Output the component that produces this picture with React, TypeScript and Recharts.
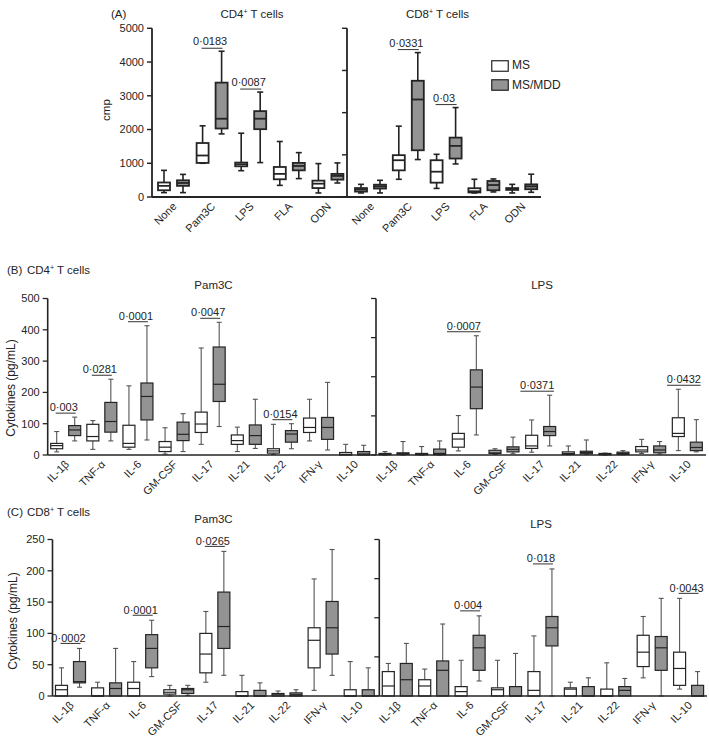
import React from 'react';
import { BarChart, Bar, XAxis, YAxis, Legend } from 'recharts';

const FONT = '"Liberation Sans", Arial, Helvetica, sans-serif';
const INK = '#242424';
const GRAY = '#939393';

// ---------- Panel A: proliferation (cmp) ----------
const stimuli = ['None', 'Pam3C', 'LPS', 'FLA', 'ODN'];
// [min, q1, median, q3, max]
const cd4MS = [
  [130, 200, 330, 430, 790],
  [1000, 1010, 1230, 1600, 2110],
  [780, 910, 970, 1020, 1890],
  [345, 525, 685, 890, 1645],
  [120, 265, 395, 485, 990],
];
const cd4MDD = [
  [130, 330, 415, 495, 670],
  [1870, 2030, 2320, 3390, 4320],
  [1020, 2010, 2320, 2545, 3110],
  [545, 790, 920, 1010, 1315],
  [415, 515, 625, 685, 1010],
];
const cd4P = ['', '0·0183', '0·0087', '', ''];

const cd8MS = [
  [120, 160, 215, 265, 375],
  [525, 790, 1090, 1240, 2100],
  [255, 425, 750, 1090, 1265],
  [120, 135, 170, 260, 525],
  [120, 210, 240, 265, 375],
];
const cd8MDD = [
  [120, 250, 315, 365, 495],
  [1110, 1385, 2890, 3445, 4280],
  [980, 1140, 1515, 1760, 2650],
  [150, 200, 355, 475, 535],
  [140, 230, 315, 375, 675],
];
const cd8P = ['', '0·0331', '0·03', '', ''];

const cmpTicks = [0, 1000, 2000, 3000, 4000, 5000];
const cmpTicksRight = [0, 1250, 2500, 3750, 5000];

// ---------- Panels B, C: cytokines ----------
const cytokines = ['IL-1β', 'TNF-α', 'IL-6', 'GM-CSF', 'IL-17', 'IL-21', 'IL-22', 'IFN-γ', 'IL-10'];

const cd4Pam3cMS = [
  [10, 20, 30, 37, 75],
  [18, 45, 59, 98, 110],
  [18, 25, 37, 95, 221],
  [3, 11, 25, 43, 87],
  [34, 72, 99, 137, 342],
  [11, 34, 46, 64, 89],
  [2, 6, 13, 20, 98],
  [45, 72, 88, 118, 178],
  [0, 0, 2, 8, 34],
];
const cd4Pam3cMDD = [
  [45, 62, 80, 94, 121],
  [45, 73, 107, 168, 242],
  [48, 112, 187, 230, 413],
  [11, 46, 66, 105, 132],
  [91, 171, 226, 345, 424],
  [21, 34, 62, 96, 178],
  [20, 41, 67, 78, 100],
  [16, 50, 88, 120, 232],
  [0, 0, 3, 11, 31],
];
const cd4Pam3cP = ['0·003', '0·0281', '0·0001', '', '0·0047', '', '0·0154', '', ''];

const cd4LpsMS = [
  [0, 1, 3, 5, 11],
  [0, 1, 3, 5, 27],
  [13, 25, 51, 69, 126],
  [2, 5, 9, 15, 20],
  [9, 21, 29, 63, 112],
  [1, 2, 5, 10, 29],
  [0, 1, 3, 5, 6],
  [5, 10, 16, 27, 50],
  [14, 59, 69, 119, 210],
];
const cd4LpsMDD = [
  [0, 2, 4, 7, 43],
  [0, 1, 5, 19, 45],
  [64, 148, 217, 272, 381],
  [4, 10, 18, 26, 57],
  [29, 62, 75, 91, 191],
  [2, 4, 8, 12, 48],
  [1, 2, 5, 9, 14],
  [3, 7, 16, 29, 43],
  [10, 14, 24, 41, 113],
];
const cd4LpsP = ['', '', '0·0007', '', '0·0371', '', '', '', '0·0432'];

const cd8Pam3cMS = [
  [0, 0, 10, 17, 45],
  [0, 0, 0, 13, 22],
  [0, 0, 12, 22, 55],
  [0, 3, 6, 10, 17],
  [22, 37, 67, 100, 135],
  [0, 0, 0, 7, 33],
  [0, 0, 2, 4, 8],
  [9, 45, 89, 109, 187],
  [0, 0, 0, 10, 55],
];
const cd8Pam3cMDD = [
  [14, 21, 23, 55, 76],
  [0, 0, 12, 21, 76],
  [31, 45, 76, 98, 121],
  [1, 4, 10, 12, 17],
  [33, 76, 111, 166, 231],
  [0, 0, 0, 9, 21],
  [0, 0, 2, 5, 10],
  [33, 67, 109, 151, 234],
  [0, 0, 0, 10, 45],
];
const cd8Pam3cP = ['0·0002', '', '0·0001', '', '0·0265', '', '', '', ''];

const cd8LpsMS = [
  [0, 0, 16, 39, 52],
  [0, 0, 16, 26, 43],
  [0, 0, 7, 15, 57],
  [0, 0, 10, 13, 57],
  [0, 0, 9, 39, 96],
  [0, 0, 11, 13, 22],
  [0, 0, 0, 11, 53],
  [29, 47, 70, 97, 127],
  [11, 17, 44, 70, 156],
];
const cd8LpsMDD = [
  [0, 0, 26, 52, 84],
  [0, 0, 41, 56, 115],
  [24, 41, 77, 97, 128],
  [0, 0, 0, 15, 68],
  [0, 80, 109, 127, 203],
  [0, 0, 0, 15, 29],
  [0, 0, 9, 15, 28],
  [0, 41, 77, 95, 156],
  [0, 0, 0, 17, 39],
];
const cd8LpsP = ['', '', '0·004', '', '0·018', '', '', '', '0·0043'];

const cd4CytTicks = [0, 100, 200, 300, 400, 500];
const cd4CytTicksRight = [0, 125, 250, 375, 500];
const cd8CytTicks = [0, 50, 100, 150, 200, 250];
const cd8CytTicksRight = [0, 62.5, 125, 187.5, 250];

// ---------- helpers ----------
function buildRows(cats: string[], ms: number[][], mdd: number[][], p: string[]) {
  return cats.map((c, i) => ({ cat: c, ms: ms[i], mdd: mdd[i], p: p[i] }));
}

type St = {
  boxStroke: number;
  whisker: number;
  whiskerColor: string;
  cap: number;
  gap: number;
  sigGap: number;
  textLift: number;
  sigMode: 'pair' | 'text';
  textShift: number;
  maxRight: number;
};

function makeShape(series: 'ms' | 'mdd', st: St) {
  return (props: any) => {
    const { x, y, width, height, payload } = props;
    if (!payload || !isFinite(y) || !isFinite(height)) return <g />;
    const v: number[] = payload[series];
    const [mn, q1, md, q3, mx] = v;
    const k = height / (mx - mn);
    const py = (val: number) => y + (mx - val) * k;
    const cx = x + width / 2;
    const hc = st.cap / 2;
    const fill = series === 'ms' ? '#ffffff' : GRAY;
    const els: any[] = [];
    if (mx > q3) {
      els.push(<line key="wu" x1={cx} x2={cx} y1={py(mx)} y2={py(q3)} stroke={st.whiskerColor} strokeWidth={st.whisker} />);
      els.push(<line key="cu" x1={cx - hc} x2={cx + hc} y1={py(mx)} y2={py(mx)} stroke={st.whiskerColor} strokeWidth={st.whisker} />);
    }
    if (q1 > mn) {
      els.push(<line key="wl" x1={cx} x2={cx} y1={py(q1)} y2={py(mn)} stroke={st.whiskerColor} strokeWidth={st.whisker} />);
      els.push(<line key="cl" x1={cx - hc} x2={cx + hc} y1={py(mn)} y2={py(mn)} stroke={st.whiskerColor} strokeWidth={st.whisker} />);
    }
    els.push(
      <rect key="box" x={x} y={py(q3)} width={width} height={Math.max(py(q1) - py(q3), 0.01)} fill={fill} stroke={INK} strokeWidth={st.boxStroke} />
    );
    els.push(<line key="med" x1={x} x2={x + width} y1={py(md)} y2={py(md)} stroke={INK} strokeWidth={st.boxStroke} />);

    if (series === 'mdd' && payload.p) {
      const msCx = cx - (width + st.gap);
      const top = Math.min(py(payload.ms[4]), py(mx));
      const lineY = top - st.sigGap;
      const pairC = (msCx + cx) / 2;
      const label: string = payload.p;
      const tw = (label.length - 1) * 6.1 + 3.1;
      let tc = pairC - st.textShift;
      if (tc + tw / 2 > st.maxRight) tc = st.maxRight - tw / 2;
      let lx1 = msCx - 1;
      let lx2 = cx + 1;
      if (st.sigMode === 'text') {
        lx1 = tc - tw / 2;
        lx2 = tc + tw / 2;
      }
      els.push(<line key="sl" x1={lx1} x2={lx2} y1={lineY} y2={lineY} stroke="#333" strokeWidth={1} />);
      els.push(
        <text key="st" x={tc} y={lineY - st.textLift} textAnchor="middle" fontSize={11} fontFamily={FONT} fill={INK}>
          {label}
        </text>
      );
    }
    return <g>{els}</g>;
  };
}

const rotTick = (props: any) => {
  const { x, y, payload } = props;
  const ax = x + 4;
  const ay = y + 10;
  return (
    <text x={ax} y={ay} transform={`rotate(-45 ${ax} ${ay})`} textAnchor="end" fontSize={11} fontFamily={FONT} fill={INK}>
      {payload.value}
    </text>
  );
};

const renderLegend = (props: any) => {
  const items = props.payload || [];
  return (
    <div style={{ fontFamily: FONT, fontSize: 12, color: INK, lineHeight: '19.5px' }}>
      {items.map((it: any, i: number) => (
        <div key={i} style={{ display: 'flex', alignItems: 'center', height: 19.5, whiteSpace: 'nowrap' }}>
          <svg width={18} height={12} style={{ display: 'block' }}>
            <rect x={0.75} y={0.75} width={16.5} height={10.5} fill={(it.payload && it.payload.fill) || it.color} stroke={INK} strokeWidth={1.2} />
          </svg>
          <span style={{ marginLeft: 3 }}>{it.value}</span>
        </div>
      ))}
    </div>
  );
};

type PanelProps = {
  left: number;
  top: number;
  width: number;
  height: number;
  margin: { top: number; right: number; bottom: number; left: number };
  xHeight: number;
  yWidth: number;
  rows: any[];
  domain: number[];
  ticks: number[];
  labels: boolean;
  padL: number;
  padR: number;
  st: St;
  axisW: number;
  legend?: boolean;
};

function Panel(p: PanelProps) {
  return (
    <div style={{ position: 'absolute', left: p.left, top: p.top }}>
      <BarChart width={p.width} height={p.height} data={p.rows} margin={p.margin} barSize={12} barGap={p.st.gap}>
        <XAxis
          dataKey="cat"
          height={p.xHeight}
          interval={0}
          tickLine={false}
          tickSize={0}
          tickMargin={0}
          axisLine={{ stroke: INK, strokeWidth: p.axisW }}
          tick={rotTick}
          padding={{ left: p.padL, right: p.padR }}
        />
        <YAxis
          type="number"
          width={p.yWidth}
          domain={p.domain as any}
          ticks={p.ticks}
          interval={0}
          tickSize={5}
          tickMargin={3}
          axisLine={{ stroke: INK, strokeWidth: p.axisW }}
          tickLine={{ stroke: INK, strokeWidth: p.axisW * 0.8 }}
          tick={{ fontSize: 11, fill: INK, fontFamily: FONT }}
          tickFormatter={p.labels ? undefined : () => ''}
        />
        <Bar
          dataKey={(d: any) => [d.ms[0], d.ms[4]]}
          name="MS"
          fill="#ffffff"
          stroke={INK}
          shape={makeShape('ms', p.st)}
          isAnimationActive={false}
        />
        <Bar
          dataKey={(d: any) => [d.mdd[0], d.mdd[4]]}
          name="MS/MDD"
          fill={GRAY}
          stroke={INK}
          shape={makeShape('mdd', p.st)}
          isAnimationActive={false}
        />
        {p.legend ? (
          <Legend
            layout="horizontal"
            verticalAlign="middle"
            align="center"
            content={renderLegend}
            wrapperStyle={{ left: 191, top: 56, width: 110, height: 40 }}
          />
        ) : null}
      </BarChart>
    </div>
  );
}

const stA: St = { boxStroke: 1.8, whisker: 1.6, whiskerColor: '#222', cap: 6, gap: 7, sigGap: 3, textLift: 3, sigMode: 'pair', textShift: 2, maxRight: 1000 };
const stB: St = { boxStroke: 1.2, whisker: 1.1, whiskerColor: '#555', cap: 5, gap: 6, sigGap: 4, textLift: 2, sigMode: 'pair', textShift: 2, maxRight: 1000 };
const stBR: St = { ...stB, sigMode: 'text', textShift: 3.5, maxRight: 367 };
const stC: St = { ...stB, sigGap: 5, textLift: 1.5 };
const stCR: St = { ...stC, textShift: 2 };

const sup = (t: string) => (
  <>
    {t}
    <tspan dy={-4} fontSize={7}>+</tspan>
    <tspan dy={4}> T cells</tspan>
  </>
);

export default function App() {
  const tx = { fontFamily: FONT, fill: INK };
  return (
    <div style={{ position: 'absolute', left: 0, top: 0, width: 709, height: 737, background: '#fff', overflow: 'hidden' }}>
      <Panel
        left={0} top={0} width={350} height={245}
        margin={{ top: 28.3, right: 3, bottom: 3, left: 92 }}
        xHeight={45} yWidth={60}
        rows={buildRows(stimuli, cd4MS, cd4MDD, cd4P)}
        domain={[0, 5000]} ticks={cmpTicks} labels padL={2} padR={0}
        st={stA} axisW={1.8}
      />
      <Panel
        left={300} top={0} width={250} height={245}
        margin={{ top: 28.3, right: 9, bottom: 3, left: 37 }}
        xHeight={45} yWidth={10}
        rows={buildRows(stimuli, cd8MS, cd8MDD, cd8P)}
        domain={[0, 5000]} ticks={cmpTicksRight} labels={false} padL={5} padR={0}
        st={stA} axisW={1.8} legend
      />
      <Panel
        left={0} top={250} width={376} height={250}
        margin={{ top: 48.5, right: 0, bottom: 3, left: 7.7 }}
        xHeight={42} yWidth={40}
        rows={buildRows(cytokines, cd4Pam3cMS, cd4Pam3cMDD, cd4Pam3cP)}
        domain={[0, 500]} ticks={cd4CytTicks} labels padL={0} padR={3.2}
        st={stB} axisW={1.6}
      />
      <Panel
        left={340} top={250} width={369} height={250}
        margin={{ top: 48.5, right: 3, bottom: 3, left: 26 }}
        xHeight={42} yWidth={10}
        rows={buildRows(cytokines, cd4LpsMS, cd4LpsMDD, cd4LpsP)}
        domain={[0, 500]} ticks={cd4CytTicksRight} labels={false} padL={0} padR={0}
        st={stBR} axisW={1.6}
      />
      <Panel
        left={0} top={490} width={380} height={247}
        margin={{ top: 49.5, right: 0.7, bottom: 1, left: 12.5 }}
        xHeight={40} yWidth={40}
        rows={buildRows(cytokines, cd8Pam3cMS, cd8Pam3cMDD, cd8Pam3cP)}
        domain={[0, 250]} ticks={cd8CytTicks} labels padL={0} padR={2}
        st={stC} axisW={1.6}
      />
      <Panel
        left={340} top={490} width={369} height={247}
        margin={{ top: 49.5, right: 2, bottom: 1, left: 29.3 }}
        xHeight={40} yWidth={10}
        rows={buildRows(cytokines, cd8LpsMS, cd8LpsMDD, cd8LpsP)}
        domain={[0, 250]} ticks={cd8CytTicksRight} labels={false} padL={0} padR={0}
        st={stCR} axisW={1.6}
      />
      <svg width={709} height={737} style={{ position: 'absolute', left: 0, top: 0, pointerEvents: 'none' }}>
        <g {...tx} fontSize={11.5}>
          <text x={111} y={17.5}>(A)</text>
          <text x={252} y={17.5} textAnchor="middle">{sup('CD4')}</text>
          <text x={437.5} y={17.5} textAnchor="middle">{sup('CD8')}</text>
          <text x={110} y={110} textAnchor="middle" transform="rotate(-90 110 110)">cmp</text>

          <text x={7} y={274}>(B)</text>
          <text x={27} y={274}>{sup('CD4')}</text>
          <text x={213.5} y={289} textAnchor="middle">Pam3C</text>
          <text x={542} y={289} textAnchor="middle">LPS</text>
          <text x={15} y={388} textAnchor="middle" fontSize={12} transform="rotate(-90 15 388)">Cytokines (pg/mL)</text>

          <text x={7} y={516}>(C)</text>
          <text x={27} y={516}>{sup('CD8')}</text>
          <text x={213.5} y={523} textAnchor="middle">Pam3C</text>
          <text x={541} y={528} textAnchor="middle">LPS</text>
          <text x={17} y={621} textAnchor="middle" fontSize={12} transform="rotate(-90 17 621)">Cytokines (pg/mL)</text>
        </g>
      </svg>
    </div>
  );
}
